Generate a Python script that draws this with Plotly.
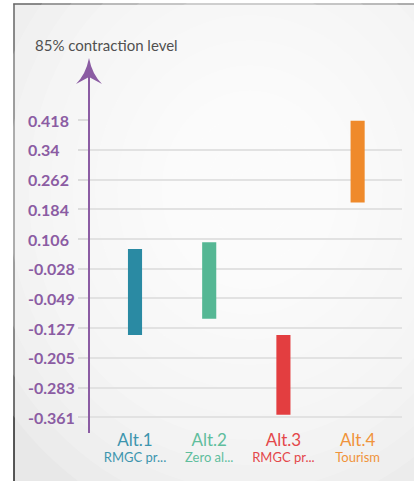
import plotly.graph_objects as go

# ---- data ----
alternatives = ["Alt.1", "Alt.2", "Alt.3", "Alt.4"]
descriptions = ["RMGC pr...", "Zero al...", "RMGC pr...", "Tourism"]
range_low = [-0.145, -0.103, -0.354, 0.202]
range_high = [0.080, 0.098, -0.145, 0.416]
bar_colors = ["#2a8aa3", "#55b794", "#e33e40", "#ef8a2b"]
label_colors = ["#3d95ae", "#5fbe9d", "#e4474a", "#f0933a"]

tick_vals = [0.418, 0.34, 0.262, 0.184, 0.106, 0.028, -0.049, -0.127, -0.205, -0.283, -0.361]
tick_text = ["0.418", "0.34", "0.262", "0.184", "0.106", "-0.028", "-0.049",
             "-0.127", "-0.205", "-0.283", "-0.361"]

title_text = "85% contraction level"

# ---- layout geometry (pixels) ----
W, H = 414, 481
ML, MR, MT, MB = 89, 12, 120, 48
PW, PH = W - ML - MR, H - MT - MB
PURPLE = "#8b5ca3"


def px(x):
    return (x - ML) / PW


def py(y):
    return 1 - (y - MT) / PH


fig = go.Figure()
fig.add_trace(go.Bar(
    x=alternatives,
    base=range_low,
    y=[h - l for h, l in zip(range_high, range_low)],
    marker=dict(color=bar_colors, line=dict(width=0)),
    width=0.19,
    hoverinfo="skip",
))

x_ticktext = [
    f"<span style='color:{c};font-size:17px'>{a}</span><br>"
    f"<span style='color:{c};font-size:13px'>{d}</span>"
    for a, d, c in zip(alternatives, descriptions, label_colors)
]

shapes = []
# framed panel
shapes.append(dict(type="rect", xref="paper", yref="paper",
                   x0=px(14), x1=px(W + 5), y0=py(H + 5), y1=py(4),
                   fillcolor="#e8e8e8", line=dict(color="#222222", width=1.5),
                   layer="below"))
# soft light centre of the panel
for i in range(14):
    r = 1 - i / 14
    rx, ry = 310 * r, 350 * r
    cx, cy = 250, 190
    shapes.append(dict(type="circle", xref="paper", yref="paper",
                       x0=px(cx - rx), x1=px(cx + rx),
                       y0=py(cy + ry), y1=py(cy - ry),
                       fillcolor="rgba(255,255,255,0.17)", line=dict(width=0),
                       layer="below"))
# vertical axis with arrowhead
shapes.append(dict(type="line", xref="paper", yref="paper",
                   x0=px(89), x1=px(89), y0=py(433), y1=py(76),
                   line=dict(color=PURPLE, width=2)))
ax_path = "M {:.4f},{:.4f} Q {:.4f},{:.4f} {:.4f},{:.4f} L {:.4f},{:.4f} L {:.4f},{:.4f} Q {:.4f},{:.4f} {:.4f},{:.4f} Z".format(
    px(89), py(58), px(92), py(74), px(102), py(84), px(89), py(77),
    px(76), py(84), px(86), py(74), px(89), py(58))
shapes.append(dict(type="path", xref="paper", yref="paper", path=ax_path,
                   fillcolor=PURPLE, line=dict(width=0)))

annotations = [dict(text=title_text, xref="paper", yref="paper",
                    x=px(33), y=py(45), xanchor="left", yanchor="middle",
                    showarrow=False, font=dict(family="Lato", size=15, color="#505050"))]
for v, t in zip(tick_vals, tick_text):
    annotations.append(dict(text=f"<b>{t}</b>", xref="paper", yref="y",
                            x=px(26), y=v, xanchor="left", yanchor="middle",
                            showarrow=False,
                            font=dict(family="Lato", size=16, color=PURPLE)))

fig.update_layout(
    width=W, height=H,
    margin=dict(l=ML, r=MR, t=MT, b=MB),
    paper_bgcolor="#ffffff",
    plot_bgcolor="rgba(0,0,0,0)",
    showlegend=False,
    shapes=shapes,
    annotations=annotations,
    xaxis=dict(type="category", range=[-0.62, 3.598], showgrid=False,
               zeroline=False, showline=False, ticks="",
               tickmode="array", tickvals=alternatives, ticktext=x_ticktext,
               tickfont=dict(family="Lato", size=12)),
    yaxis=dict(range=[-0.402, 0.418], tickmode="array", tickvals=tick_vals,
               showticklabels=False, ticks="outside", ticklen=10,
               tickcolor="#dcdcdc", tickwidth=1.5,
               showgrid=True, gridcolor="#e2e2e2", gridwidth=1.5,
               zeroline=False, showline=False),
)

fig.write_html("out.html")
